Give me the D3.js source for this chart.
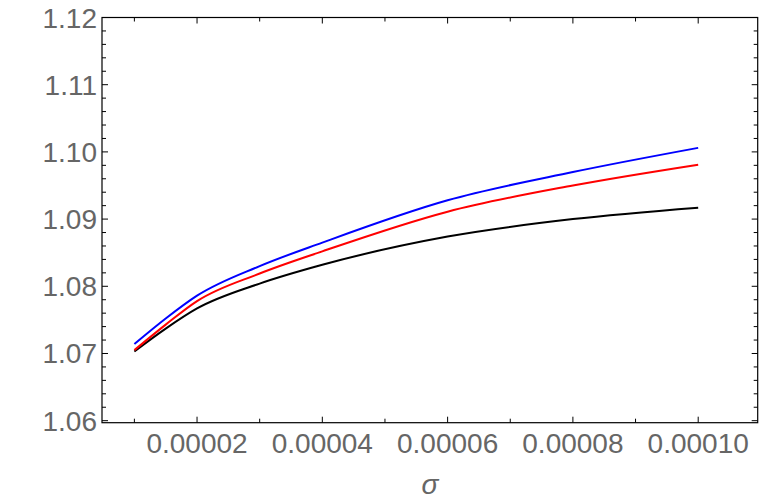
<!DOCTYPE html><html><head><script src="https://cdn.jsdelivr.net/npm/d3@7"></script>
<style>body{margin:0;background:#fff}text{font-family:"Liberation Sans",Arial,sans-serif}</style></head><body>
<svg id="c" width="763" height="503"></svg>
<script>
const xs=[0.00001,0.000015,0.00002,0.00003,0.00004,0.00006,0.00008,0.0001];
const blue=[1.0714,1.0752,1.0786,1.0830,1.0865,1.0928,1.0970,1.1006];
const red=[1.0705,1.0743,1.0778,1.0819,1.0852,1.0911,1.0950,1.0981];
const black=[1.0703,1.0737,1.0767,1.0804,1.0832,1.0874,1.0900,1.0917];
const xTicks=[0.00002,0.00004,0.00006,0.00008,0.0001];
const xTickLabels=["0.00002","0.00004","0.00006","0.00008","0.00010"];
const yTicks=[1.06,1.07,1.08,1.09,1.10,1.11,1.12];
const yTickLabels=["1.06","1.07","1.08","1.09","1.10","1.11","1.12"];
const svg=d3.select("#c");
const L=102,R=757.7,T=17.5,B=422.7;
const x=d3.scaleLinear().domain([0.00000483,0.0001095]).range([L,R]);
const y=d3.scaleLinear().domain([1.0597,1.12]).range([B,T]);
const g=svg.append("g");
const minorX=d3.range(1,11).map(i=>i*0.00001);
const minorY=d3.range(0,31).map(i=>1.06+i*0.002);
minorX.forEach(v=>{const maj=xTicks.some(t=>Math.abs(t-v)<1e-9);const l=maj?6:4;
  g.append("line").attr("x1",x(v)).attr("x2",x(v)).attr("y1",B).attr("y2",B-l).attr("stroke","#000");
  g.append("line").attr("x1",x(v)).attr("x2",x(v)).attr("y1",T).attr("y2",T+l).attr("stroke","#000");});
minorY.forEach(v=>{const maj=yTicks.some(t=>Math.abs(t-v)<1e-9);const l=maj?6:4;
  g.append("line").attr("y1",y(v)).attr("y2",y(v)).attr("x1",L).attr("x2",L+l).attr("stroke","#000");
  g.append("line").attr("y1",y(v)).attr("y2",y(v)).attr("x1",R).attr("x2",R-l).attr("stroke","#000");});
g.append("rect").attr("x",L).attr("y",T).attr("width",R-L).attr("height",B-T).attr("fill","none").attr("stroke","#000").attr("stroke-width",1.2);
xTicks.forEach((t,i)=>g.append("text").attr("x",x(t)).attr("y",453).attr("text-anchor","middle").attr("font-size",28).attr("fill","#666").text(xTickLabels[i]));
yTicks.forEach((t,i)=>g.append("text").attr("x",97).attr("y",y(t)+10).attr("text-anchor","end").attr("font-size",28).attr("fill","#666").text(yTickLabels[i]));
g.append("text").attr("x",430).attr("y",494).attr("text-anchor","middle").attr("font-size",28).attr("font-style","italic").attr("fill","#666").text("σ");
const line=d3.line().x((d,i)=>x(xs[i])).y(d=>y(d)).curve(d3.curveMonotoneX);
[[black,"#000"],[red,"#f00"],[blue,"#00f"]].forEach(([s,c])=>g.append("path").attr("d",line(s)).attr("fill","none").attr("stroke",c).attr("stroke-width",2));
</script></body></html>
